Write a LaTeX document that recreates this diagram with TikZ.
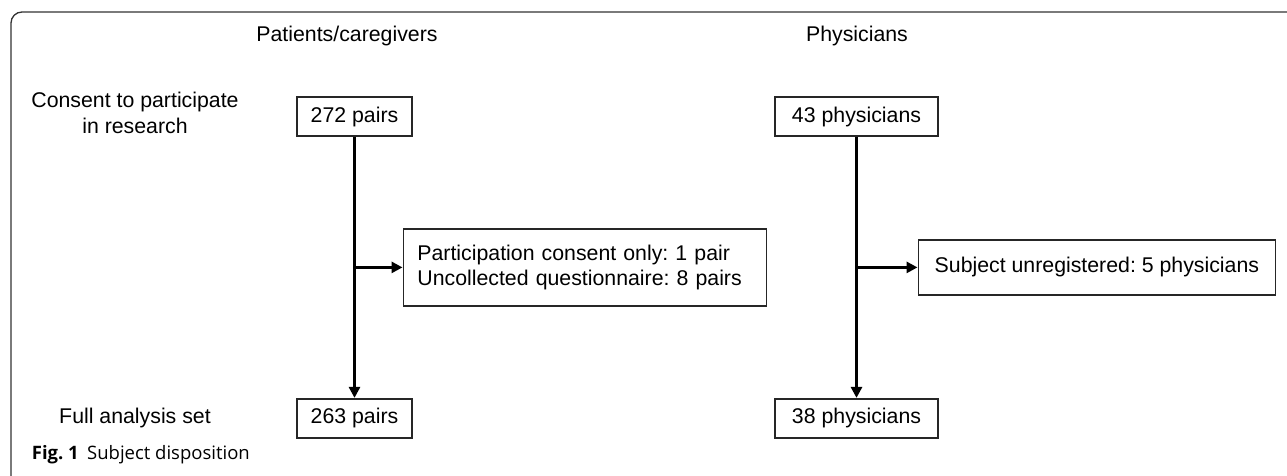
\documentclass[tikz,border=0pt]{standalone}
\usepackage{fontspec}
\setmainfont{Liberation Sans}
\newfontfamily\capfont{Open Sans}
\usetikzlibrary{positioning,arrows.meta}
\frenchspacing

\begin{document}
\begin{tikzpicture}[x=1pt,y=-1pt,->,>={Triangle[length=11pt,width=11pt]},line width=3.2pt,
    font=\fontsize{21.3}{25.5}\selectfont]
   \tikzstyle{countbox}=[draw=black!85,line width=1.8pt,inner sep=0pt,minimum height=39pt]
   \useasboundingbox (0,0) rectangle (1287,476);
   \draw[-,black!80,line width=1.3pt,rounded corners=11pt] (1287,12) -- (11,12) -- (11,476);

   \node (patHdr) at (347,36) {Patients/caregivers};
   \node (phyHdr) at (857,36) {Physicians};

   \node[countbox,minimum width=115pt] (pairs272) at (354.5,116.5) {272 pairs};
   \node[countbox,minimum width=163pt] (phys43) at (856.5,116.5) {43 physicians};
   \node[countbox,minimum width=115pt] (pairs263) [below=261pt of pairs272] {263 pairs};
   \node[countbox,minimum width=163pt] (phys38) [below=261pt of phys43] {38 physicians};

   \node[align=center] (consentLbl) at (135,113) {Consent to participate\\in research};
   \node (fasLbl) at (135,0 |- pairs263) {Full analysis set};

   \path (pairs272.south) -- coordinate (splitL) (pairs263.north);
   \path (phys43.south) -- coordinate (splitR) (phys38.north);

   \node[countbox,inner xsep=14pt,minimum height=77pt,text width=335pt,align=left] (exclL) [right=48pt of splitL]
     {Participation consent only: 1 pair\\Uncollected questionnaire: 8 pairs};
   \node[countbox,minimum width=357pt,minimum height=55pt] (exclR) [right=61pt of splitR]
     {Subject unregistered: 5 physicians};

   \draw (pairs272) -- (pairs263);
   \draw (phys43) -- (phys38);
   \draw (splitL) -- (exclL);
   \draw (splitR) -- (exclR);

   \node[anchor=west,font=\capfont\fontsize{18.5}{22}\selectfont] (figCap) at (27,455)
     {\textbf{Fig. 1}\hspace{0.45em}Subject disposition};
\end{tikzpicture}
\end{document}
